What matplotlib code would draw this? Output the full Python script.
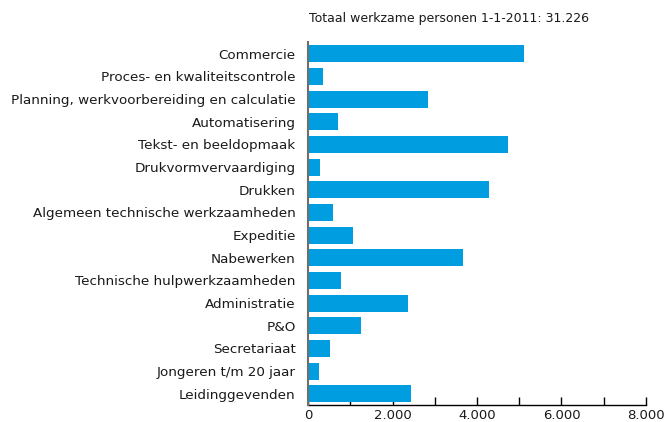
import matplotlib
matplotlib.use("Agg")
import matplotlib.pyplot as plt
from matplotlib.ticker import FixedLocator, FuncFormatter

categories = [
    "Commercie",
    "Proces- en kwaliteitscontrole",
    "Planning, werkvoorbereiding en calculatie",
    "Automatisering",
    "Tekst- en beeldopmaak",
    "Drukvormvervaardiging",
    "Drukken",
    "Algemeen technische werkzaamheden",
    "Expeditie",
    "Nabewerken",
    "Technische hulpwerkzaamheden",
    "Administratie",
    "P&O",
    "Secretariaat",
    "Jongeren t/m 20 jaar",
    "Leidinggevenden",
]
values = [5110, 355, 2840, 710, 4735, 285, 4285, 590,
          1065, 3670, 780, 2365, 1255, 520, 260, 2440]
major_ticks = [0, 2000, 4000, 6000, 8000]
minor_ticks = [1000, 3000, 5000, 7000]
title = "Totaal werkzame personen 1-1-2011: 31.226"

plt.rcParams["font.family"] = ["DejaVu Sans"]

fig = plt.figure(figsize=(6.65, 4.22), dpi=100)
ax = fig.add_axes([0.4632, 0.0403, 0.5082, 0.8602])

pos = list(range(len(categories)))
ax.barh(pos, values, height=0.75, color="#009ee0", zorder=2)
ax.set_ylim(len(categories) - 0.5, -0.52)
ax.set_xlim(0, 8000)

ax.set_yticks(pos)
ax.set_yticklabels(categories, fontsize=9.7, color="#1a1a1a")
ax.tick_params(axis="y", length=0, pad=9)

ax.xaxis.set_major_locator(FixedLocator(major_ticks))
ax.xaxis.set_minor_locator(FixedLocator(minor_ticks))
ax.xaxis.set_major_formatter(FuncFormatter(lambda v, p: f"{int(v):,}".replace(",", ".")))
ax.tick_params(axis="x", which="both", direction="in", length=6, width=1,
               color="black", labelsize=9.5, pad=3)
ax.tick_params(axis="x", which="major", labelcolor="#1a1a1a")

for s in ["top", "right"]:
    ax.spines[s].set_visible(False)
ax.spines["left"].set_color("#6e6e6e")
ax.spines["left"].set_linewidth(1.5)
ax.spines["left"].set_zorder(3)
ax.spines["bottom"].set_color("black")
ax.spines["bottom"].set_linewidth(1)

fig.text(0.465, 0.957, title, fontsize=9, color="#1a1a1a", ha="left", va="center")

fig.savefig("out.png", dpi=100)
